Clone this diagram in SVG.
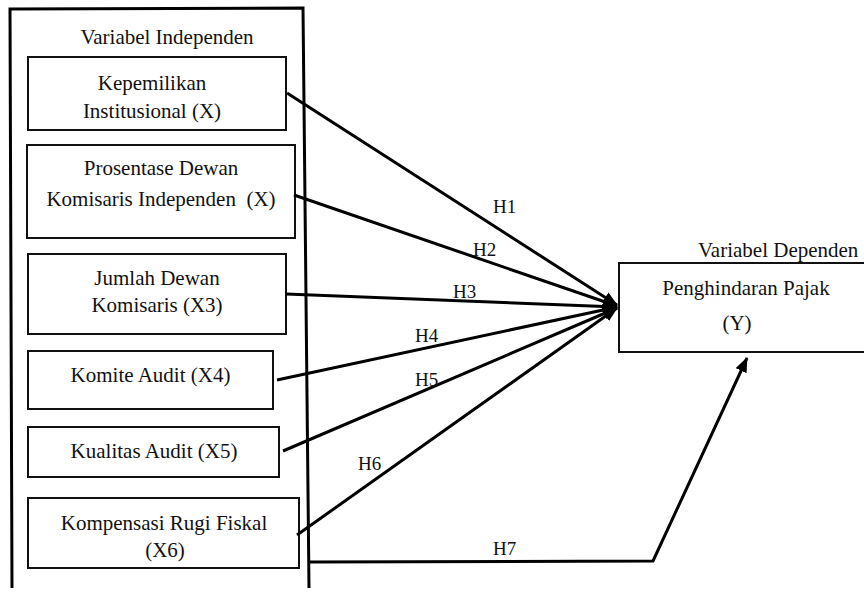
<svg xmlns="http://www.w3.org/2000/svg" width="864" height="597" viewBox="0 0 864 597">
<defs>
<marker id="ah" markerUnits="userSpaceOnUse" markerWidth="16" markerHeight="12" refX="14" refY="6" orient="auto">
<path d="M0,0 L15,6 L0,12 Z" fill="#000"/>
</marker>
<style>
text{font-family:'Liberation Serif','DejaVu Serif',serif;fill:#111;}
.t{font-size:21px;}
.h{font-size:19px;}
.box{fill:#fff;stroke:#111;stroke-width:2;}
.c{fill:none;stroke:#000;stroke-width:3;}
</style>
</defs>
<rect width="864" height="597" fill="#fff"/>
<g id="container">
<polyline points="12,588 10,9 303,8 309,588" fill="none" stroke="#000" stroke-width="3"/>
<text class="t" x="167" y="44" text-anchor="middle">Variabel Independen</text>
</g>
<g id="x1">
<rect class="box" x="28" y="57" width="258" height="73"/>
<text class="t" x="152" y="90" text-anchor="middle">Kepemilikan</text>
<text class="t" x="152" y="118" text-anchor="middle">Institusional (X)</text>
</g>
<g id="x2">
<rect class="box" x="27" y="145" width="268" height="93"/>
<text class="t" x="161" y="175" text-anchor="middle">Prosentase Dewan</text>
<text class="t" x="161" y="206" text-anchor="middle" xml:space="preserve">Komisaris Independen  (X)</text>
</g>
<g id="x3">
<rect class="box" x="28" y="254" width="258" height="80"/>
<text class="t" x="157" y="285" text-anchor="middle">Jumlah Dewan</text>
<text class="t" x="157" y="312" text-anchor="middle">Komisaris (X3)</text>
</g>
<g id="x4">
<rect class="box" x="28" y="351" width="245" height="58"/>
<text class="t" x="150.5" y="382" text-anchor="middle">Komite Audit (X4)</text>
</g>
<g id="x5">
<rect class="box" x="28" y="427" width="251" height="50"/>
<text class="t" x="154" y="458" text-anchor="middle">Kualitas Audit (X5)</text>
</g>
<g id="x6">
<rect class="box" x="28" y="498" width="271" height="70"/>
<text class="t" x="164" y="530" text-anchor="middle">Kompensasi Rugi Fiskal</text>
<text class="t" x="165" y="557" text-anchor="middle">(X6)</text>
</g>
<g id="y">
<text class="t" x="698" y="257">Variabel Dependen</text>
<rect class="box" x="619" y="263" width="260" height="89"/>
<text class="t" x="746" y="295" text-anchor="middle">Penghindaran Pajak</text>
<text class="t" x="737" y="330" text-anchor="middle">(Y)</text>
</g>
<g id="connectors">
<line class="c" x1="287" y1="93" x2="617" y2="305" marker-end="url(#ah)"/>
<line class="c" x1="294" y1="195" x2="617" y2="306" marker-end="url(#ah)"/>
<line class="c" x1="286" y1="294" x2="617" y2="307" marker-end="url(#ah)"/>
<line class="c" x1="277" y1="380" x2="617" y2="307" marker-end="url(#ah)"/>
<line class="c" x1="283" y1="451" x2="617" y2="308" marker-end="url(#ah)"/>
<line class="c" x1="297" y1="535" x2="617" y2="308" marker-end="url(#ah)"/>
<polyline class="c" points="310,562 653,561 747,358" marker-end="url(#ah)"/>
<text class="h" x="493" y="213">H1</text>
<text class="h" x="473" y="256">H2</text>
<text class="h" x="453" y="298">H3</text>
<text class="h" x="415" y="342">H4</text>
<text class="h" x="415" y="386">H5</text>
<text class="h" x="358" y="470">H6</text>
<text class="h" x="493" y="555">H7</text>
</g>
</svg>
